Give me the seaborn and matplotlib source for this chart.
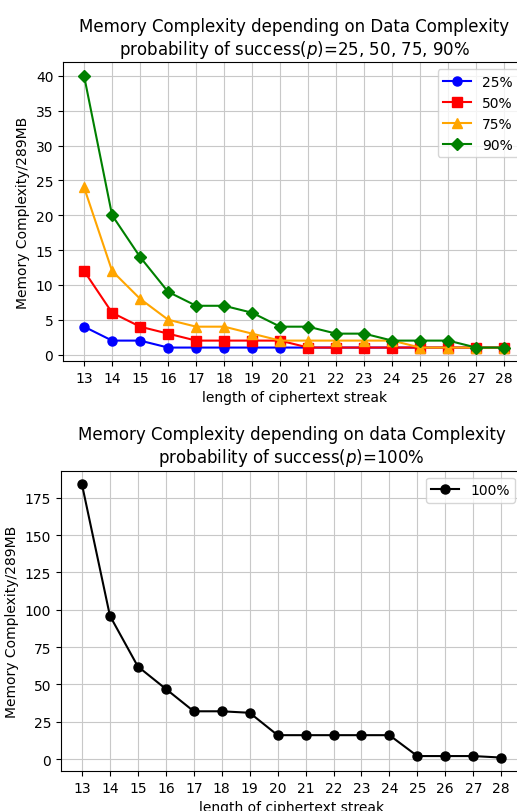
import matplotlib
matplotlib.use('Agg')
import matplotlib.pyplot as plt
import seaborn as sns
import pandas as pd

# Data
streak_len = list(range(13, 29))
mem_25 = [4, 2, 2, 1, 1, 1, 1, 1, 1, 1, 1, 1, 1, 1, 1, 1]
mem_50 = [12, 6, 4, 3, 2, 2, 2, 2, 1, 1, 1, 1, 1, 1, 1, 1]
mem_75 = [24, 12, 8, 5, 4, 4, 3, 2, 2, 2, 2, 2, 1, 1, 1, 1]
mem_90 = [40, 20, 14, 9, 7, 7, 6, 4, 4, 3, 3, 2, 2, 2, 1, 1]
mem_100 = [184, 96, 62, 47, 32, 32, 31, 16, 16, 16, 16, 16, 2, 2, 2, 1]

series = [('25%', mem_25, 'blue', 'o'),
          ('50%', mem_50, 'red', 's'),
          ('75%', mem_75, 'orange', '^'),
          ('90%', mem_90, 'green', 'D')]

fig = plt.figure(figsize=(5.17, 8.12), dpi=100)
ax1 = fig.add_axes([0.122, 0.554, 0.894, 0.368])
ax2 = fig.add_axes([0.118, 0.049, 0.892, 0.370])

# Top plot: p = 25, 50, 75, 90%
for label, vals, color, marker in series:
    df = pd.DataFrame({'length': streak_len, 'mem': vals})
    sns.lineplot(data=df, x='length', y='mem', ax=ax1, color=color,
                 marker=marker, markersize=6.5, markeredgecolor=color,
                 markeredgewidth=1, linewidth=1.5, label=label)
ax1.set_title('Memory Complexity depending on Data Complexity\n'
              'probability of success($p$)=25, 50, 75, 90%', fontsize=12)
ax1.set_xlabel('length of ciphertext streak')
ax1.set_ylabel('Memory Complexity/289MB')
ax1.set_xticks(streak_len)
ax1.grid(True, color='#c8c8c8')
ax1.legend(loc='upper right')

# Bottom plot: p = 100%
df100 = pd.DataFrame({'length': streak_len, 'mem': mem_100})
sns.lineplot(data=df100, x='length', y='mem', ax=ax2, color='black',
             marker='o', markersize=6.5, markeredgecolor='black',
             markeredgewidth=1, linewidth=1.5, label='100%')
ax2.set_title('Memory Complexity depending on data Complexity\n'
              'probability of success($p$)=100%', fontsize=12)
ax2.set_xlabel('length of ciphertext streak')
ax2.set_ylabel('Memory Complexity/289MB')
ax2.set_xticks(streak_len)
ax2.set_yticks([0, 25, 50, 75, 100, 125, 150, 175])
ax2.grid(True, color='#c8c8c8')
ax2.legend(loc='upper right')

fig.savefig('out.png', dpi=100)
